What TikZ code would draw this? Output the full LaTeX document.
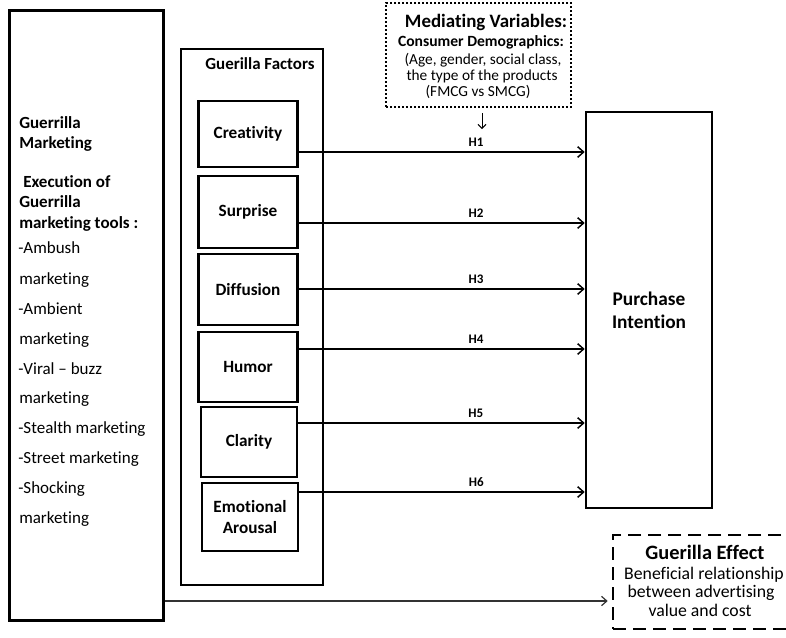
\documentclass[tikz,border=0pt]{standalone}
\usepackage{fontspec}
\setmainfont{Carlito}[Ligatures={NoCommon,NoContextual}]
\usetikzlibrary{arrows.meta}
\begin{document}
\begin{tikzpicture}[x=0.75pt,y=-0.75pt,
  fbox/.style={draw, line width=1.9pt, inner sep=0pt, align=center,
    font=\fontsize{12.9}{15.75}\selectfont\bfseries},
  arr/.style={draw, line width=1.1pt,
    -{Straight Barb[length=4.5pt,width=8pt,line width=1.1pt]}},
  hl/.style={font=\fontsize{9.8}{11}\selectfont\bfseries, inner sep=0pt},
  lt/.style={anchor=west, inner sep=0pt, text height=9pt, text depth=3pt,
    font=\fontsize{12.75}{15}\selectfont},
  lh/.style={lt, font=\fontsize{12.75}{15}\selectfont\bfseries},
  ct/.style={inner sep=0pt, text height=8.5pt, text depth=2.5pt}]
\useasboundingbox (0,0) rectangle (786,637);

% left box
\node[draw, line width=2.25pt, minimum width=115.5pt, minimum height=457.5pt, inner sep=0pt] (gm) at (86,315) {};
\node[lh] (l1) at (19,124) {Guerrilla};
\node[lh] (l2) at (19,144) {Marketing};
\node[lh] (l3) at (23,183) {Execution of};
\node[lh] (l4) at (19,203) {Guerrilla};
\node[lh] (l5) at (19,224) {marketing tools :};
\node[lt] (l6) at (18,249) {-Ambush};
\node[lt] (l7) at (19,280) {marketing};
\node[lt] (l8) at (18,310) {-Ambient};
\node[lt] (l9) at (19,340) {marketing};
\node[lt] (l10) at (18,370) {-Viral \textendash{} buzz};
\node[lt] (l11) at (19,399) {marketing};
\node[lt] (l12) at (18,429) {-Stealth marketing};
\node[lt] (l13) at (18,459) {-Street marketing};
\node[lt] (l14) at (18,489) {-Shocking};
\node[lt] (l15) at (19,519) {marketing};

% guerilla factors
\node[draw, line width=1.1pt, minimum width=106.5pt, minimum height=402pt, inner sep=0pt] (gf) at (252,317) {};
\node[ct, font=\fontsize{12.7}{15}\selectfont\bfseries] (gft) at (260,65) {Guerilla Factors};
\node[fbox, minimum width=74.25pt, minimum height=49.5pt] (cre) at (248,134) {Creativity};
\node[fbox, minimum width=74.25pt, minimum height=54pt] (sur) at (248,212) {Surprise};
\node[fbox, minimum width=74.25pt, minimum height=53.25pt] (dif) at (248,289.5) {Diffusion};
\node[fbox, minimum width=74.25pt, minimum height=52.5pt] (hum) at (248,367) {Humor};
\node[fbox, minimum width=72pt, minimum height=52.5pt] (cla) at (249,442) {Clarity};
\node[fbox, minimum width=72pt, minimum height=51pt] (emo) at (250,517) {Emotional\\Arousal};

% purchase intention
\node[draw, line width=1.9pt, inner sep=0pt, minimum width=94.5pt, minimum height=297pt, align=center,
  font=\fontsize{14.5}{17.25}\selectfont\bfseries] (pi) at (649,310) {Purchase\\Intention};

% mediating variables
\node[draw, line width=1.5pt, dash pattern=on 1.5pt off 1.5pt, minimum width=138.75pt, minimum height=78pt, inner sep=0pt] (mv) at (478.5,55) {};
\node[ct, font=\fontsize{14.2}{16}\selectfont\bfseries] (m1) at (486,23) {Mediating Variables:};
\node[ct, font=\fontsize{11.7}{14}\selectfont\bfseries] (m2) at (481,42) {Consumer Demographics:};
\node[ct, font=\fontsize{11.5}{14}\selectfont] (m3) at (483,60) {(Age, gender, social class,};
\node[ct, font=\fontsize{11.5}{14}\selectfont] (m4) at (482,76) {the type of the products};
\node[ct, font=\fontsize{11.5}{14}\selectfont] (m5) at (478,92) {(FMCG vs SMCG)};
\coordinate (sa) at (482,113);
\coordinate (sb) at (482,129);
\draw[line width=0.75pt, -{Straight Barb[length=3pt,width=6pt,line width=0.75pt]}] (sa) -- (sb);

% hypothesis arrows
\coordinate (y1) at (0,152);
\coordinate (y2) at (0,223);
\coordinate (y3) at (0,289);
\coordinate (y4) at (0,349);
\coordinate (y5) at (0,423);
\coordinate (y6) at (0,492);
\draw[arr] (cre.east |- y1) -- node[hl, pos=0.62, yshift=7.5pt] {H1} (pi.west |- y1);
\draw[arr] (sur.east |- y2) -- node[hl, pos=0.62, yshift=7.5pt] {H2} (pi.west |- y2);
\draw[arr] (dif.east |- y3) -- node[hl, pos=0.62, yshift=7.5pt] {H3} (pi.west |- y3);
\draw[arr] (hum.east |- y4) -- node[hl, pos=0.62, yshift=7.5pt] {H4} (pi.west |- y4);
\draw[arr] (cla.east |- y5) -- node[hl, pos=0.62, yshift=7.5pt] {H5} (pi.west |- y5);
\draw[arr] (emo.east |- y6) -- node[hl, pos=0.62, yshift=7.5pt] {H6} (pi.west |- y6);

% guerilla effect
\begin{scope}
\clip (0,0) rectangle (786,637);
\node[draw, line width=1.9pt, dash pattern=on 9.75pt off 5.25pt, minimum width=140.25pt, minimum height=70.5pt, inner sep=0pt] (ge) at (706.5,582) {};
\end{scope}
\node[ct, font=\fontsize{15.3}{17}\selectfont\bfseries] (e1) at (705,555) {Guerilla Effect};
\node[ct, font=\fontsize{13.3}{15}\selectfont] (e2) at (704,575) {Beneficial relationship};
\node[ct, font=\fontsize{13.3}{15}\selectfont] (e3) at (701,593) {between advertising};
\node[ct, font=\fontsize{13.3}{15}\selectfont] (e4) at (700,612) {value and cost};

\coordinate (yb) at (0,601);
\draw[draw=black!80, line width=0.9pt, -{Straight Barb[length=4pt,width=7pt,line width=0.9pt]}, shorten >=3pt] (gm.east |- yb) -- (ge.west |- yb);
\end{tikzpicture}
\end{document}
